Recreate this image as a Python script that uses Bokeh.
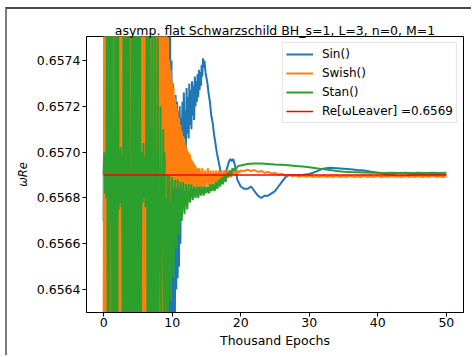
import numpy as np
from bokeh.plotting import figure
from bokeh.models import Range1d, FixedTicker, PrintfTickFormatter, Legend, LegendItem
from bokeh.embed import file_html
from bokeh.resources import INLINE

# ---------------- data (thousand epochs, omega_Re) ----------------
title_text = "asymp. flat Schwarzschild BH_s=1, L=3, n=0, M=1"
series_names = ["Sin()", "Swish()", "Stan()"]
leaver_value = 0.6569
leaver_epochs = [0.0, 50.0]

x_ticks = [0, 10, 20, 30, 40, 50]
y_ticks = [0.6564, 0.6566, 0.6568, 0.6570, 0.6572, 0.6574]

# Sin() pieces: (first epoch, last epoch) and values
sin_early_span = (0.0, 8.0)
sin_early = [0.6567, 0.6579, 0.6559, 0.6579, 0.6559, 0.6578, 0.6560, 0.6579, 0.6559, 0.6579,
             0.6560, 0.6578, 0.6559, 0.6579, 0.6559, 0.6579, 0.6560, 0.6578, 0.6559, 0.6579,
             0.6560, 0.6579, 0.6559, 0.6578, 0.6559, 0.6579, 0.6560, 0.6579, 0.6559, 0.6578,
             0.6560, 0.6579, 0.6559, 0.6579, 0.6560, 0.6578, 0.6559, 0.6579, 0.6560, 0.6579, 0.6560]
sin_burst_span = (8.2, 11.3)
sin_burst = [0.6560, 0.6578, 0.6560, 0.6572, 0.6560, 0.6578, 0.6561, 0.6578, 0.6560, 0.6578,
             0.6561, 0.6578, 0.6562, 0.6578, 0.6561, 0.6576, 0.6562, 0.6574, 0.6563, 0.6573,
             0.6562, 0.6572, 0.6563, 0.65725, 0.65640, 0.65722, 0.65645, 0.65718, 0.65650, 0.65720,
             0.65660, 0.65715]
sin_ramp_span = (11.4, 14.6)
sin_ramp = [0.65705, 0.65722, 0.65703, 0.65726, 0.65706, 0.65718, 0.65702, 0.65728, 0.65708, 0.65724,
            0.65706, 0.65730, 0.65712, 0.65727, 0.65710, 0.65731, 0.65716, 0.65729, 0.65714, 0.65733,
            0.65720, 0.65731, 0.65722, 0.65734, 0.65724, 0.65736, 0.65727, 0.65735, 0.65729, 0.65738,
            0.65733, 0.65741, 0.65737]
sin_decay_span = (14.7, 19.5)
sin_decay = [0.65740, 0.65734, 0.65731, 0.65726, 0.65722, 0.65716, 0.65713, 0.65708, 0.65704, 0.65700,
             0.65697, 0.65694, 0.65691, 0.65690, 0.65689, 0.65690, 0.65692, 0.65694, 0.65696, 0.65697,
             0.65696, 0.65697, 0.65695, 0.65692, 0.65688]
sin_dip_span = (20.0, 28.0)
sin_dip = [0.65685, 0.65684, 0.65684, 0.65685, 0.65683, 0.65681, 0.65680, 0.65681, 0.65681, 0.65682,
           0.65683, 0.65685, 0.65687, 0.65689, 0.65690, 0.65690, 0.65690]
sin_tail_span = (29.0, 50.0)
sin_tail = [0.656900, 0.656905, 0.656915, 0.656928, 0.656932, 0.656930, 0.656928, 0.656925, 0.656922, 0.656920,
            0.656915, 0.656910, 0.656905, 0.656900, 0.656895, 0.656897, 0.656900, 0.656902, 0.656903, 0.656903,
            0.656902, 0.656902]

# Swish() pieces
swish_early_span = (0.0, 8.4)
swish_early = [0.6562, 0.6579, 0.6559, 0.6579, 0.6560, 0.6578, 0.6559, 0.6579, 0.6560, 0.6579,
               0.6559, 0.6578, 0.6560, 0.6579, 0.6559, 0.6579, 0.6560, 0.6578, 0.6559, 0.6579,
               0.6560, 0.6579, 0.6559, 0.6578, 0.6560, 0.6579, 0.6559, 0.6579, 0.6560, 0.6578,
               0.6559, 0.6579, 0.6560, 0.6579, 0.6559, 0.6578, 0.6560, 0.6579, 0.6559, 0.6579,
               0.6560, 0.6578, 0.6559, 0.6579, 0.6560, 0.6579, 0.6559, 0.6578, 0.6560, 0.6579,
               0.6559, 0.6579, 0.6560, 0.6578, 0.6559, 0.6579, 0.6560, 0.6579, 0.6559, 0.6578,
               0.6560, 0.6579, 0.6559, 0.6579, 0.6560, 0.6578, 0.6559, 0.6579, 0.6560, 0.6579,
               0.6559, 0.6578, 0.6560, 0.6579, 0.6559, 0.6579, 0.6560, 0.6578, 0.6559, 0.6579,
               0.6560, 0.6579, 0.6559, 0.6578, 0.6560]
swish_envelope_span = (8.5, 14.0)
swish_envelope = [0.6560, 0.6578, 0.6560, 0.6578, 0.6561, 0.6577, 0.6562, 0.6576, 0.6564, 0.65750,
                  0.65670, 0.65740, 0.65678, 0.65736, 0.65682, 0.65731, 0.65684, 0.65728, 0.65684, 0.65724,
                  0.65685, 0.65721, 0.65684, 0.65718, 0.65685, 0.65715, 0.65684, 0.65712, 0.65685, 0.65709,
                  0.65684, 0.65707, 0.65685, 0.65705, 0.65684, 0.65703, 0.65685, 0.65701, 0.65684, 0.65700,
                  0.65685, 0.65699, 0.65684, 0.65697, 0.65685, 0.65696, 0.65684, 0.65695, 0.65685, 0.65694,
                  0.65684, 0.65693, 0.65685, 0.65693, 0.65684, 0.65693]
swish_settle_span = (14.2, 20.0)
swish_settle = [0.65684, 0.65693, 0.65684, 0.65692, 0.65685, 0.65693, 0.65685, 0.65692, 0.65685, 0.65692,
                0.65686, 0.65692, 0.65686, 0.65692, 0.65687, 0.65692, 0.65687, 0.65692, 0.65688, 0.65692,
                0.65689, 0.65692, 0.65689, 0.65692, 0.65690, 0.65692, 0.65690, 0.65692, 0.65691, 0.65692]
swish_tail_span = (20.5, 50.0)
swish_tail = [0.656918, 0.656924, 0.656918, 0.656922, 0.656914, 0.656918, 0.656910, 0.656914, 0.656906, 0.656910,
              0.656902, 0.656905, 0.656898, 0.656901, 0.656895, 0.656898, 0.656893, 0.656897, 0.656892, 0.656896,
              0.656892, 0.656895, 0.656891, 0.656896, 0.656892, 0.656895, 0.656892, 0.656896, 0.656891, 0.656895,
              0.656892, 0.656896, 0.656892, 0.656895, 0.656891, 0.656896, 0.656892, 0.656895, 0.656892, 0.656896,
              0.656891, 0.656895, 0.656892, 0.656896, 0.656892, 0.656895, 0.656891, 0.656896, 0.656892, 0.656895,
              0.656892, 0.656896, 0.656891, 0.656895, 0.656892, 0.656896, 0.656892, 0.656895, 0.656891, 0.656895]

# Stan() pieces
stan_early_span = (0.0, 9.4)
stan_early = [0.65690, 0.65700, 0.65682, 0.65698, 0.65680, 0.6578, 0.6560, 0.6578, 0.6560, 0.6578,
              0.6567, 0.6578, 0.6560, 0.6578, 0.6560, 0.6571, 0.6560, 0.6578, 0.6560, 0.6578,
              0.6560, 0.6578, 0.65675, 0.65700, 0.65678, 0.65702, 0.65676, 0.65698, 0.6560, 0.6578,
              0.6560, 0.6578, 0.6560, 0.6578, 0.6560, 0.6578, 0.6560, 0.6578, 0.6560, 0.6569,
              0.6560, 0.6578, 0.6560, 0.6578, 0.6560, 0.6578, 0.6560, 0.6578, 0.6560, 0.6578,
              0.6560, 0.6578, 0.6560, 0.6578, 0.6560, 0.65682, 0.65700, 0.65678, 0.65704, 0.65680,
              0.65698, 0.65676, 0.65702, 0.6578, 0.6560, 0.6578, 0.6560, 0.6578, 0.6560, 0.6571,
              0.6560, 0.6578, 0.6561, 0.6569, 0.6560, 0.6578, 0.6562, 0.6570, 0.6560, 0.6575,
              0.6561, 0.6568, 0.6565, 0.6572, 0.6562, 0.6569, 0.6566, 0.6571, 0.6562, 0.6570,
              0.6561, 0.6568, 0.6562, 0.6569, 0.6563]
stan_rise_span = (9.6, 19.6)
stan_rise = [0.65690, 0.65635, 0.65689, 0.65645, 0.65688, 0.65658, 0.65688, 0.65664, 0.65687, 0.65670,
             0.65687, 0.65673, 0.65686, 0.65675, 0.65686, 0.65678, 0.65686, 0.65679, 0.65685, 0.65680,
             0.65685, 0.65680, 0.65685, 0.65681, 0.65685, 0.65681, 0.65685, 0.65682, 0.65685, 0.65682,
             0.65686, 0.65683, 0.65686, 0.65683, 0.65687, 0.65684, 0.65688, 0.65685, 0.65689, 0.65686,
             0.65690, 0.65687, 0.65691, 0.65689, 0.65692, 0.65690, 0.65693, 0.65692, 0.65693, 0.65693,
             0.65694]
stan_tail_span = (20.0, 50.0)
stan_tail = [0.656942, 0.656948, 0.656950, 0.656950, 0.656948, 0.656946, 0.656945, 0.656943, 0.656940, 0.656937,
             0.656934, 0.656930, 0.656926, 0.656922, 0.656918, 0.656915, 0.656913, 0.656912, 0.656911, 0.656910,
             0.656910, 0.656909, 0.656910, 0.656909, 0.656910, 0.656909, 0.656910, 0.656909, 0.656910, 0.656909,
             0.656910]


def assemble(pieces):
    xs, ys = [], []
    for (start, end), vals in pieces:
        xs.extend(np.linspace(start, end, len(vals)).tolist())
        ys.extend(vals)
    return xs, ys


sin_x, sin_y = assemble([(sin_early_span, sin_early), (sin_burst_span, sin_burst),
                         (sin_ramp_span, sin_ramp), (sin_decay_span, sin_decay),
                         (sin_dip_span, sin_dip), (sin_tail_span, sin_tail)])
swish_x, swish_y = assemble([(swish_early_span, swish_early), (swish_envelope_span, swish_envelope),
                             (swish_settle_span, swish_settle), (swish_tail_span, swish_tail)])
stan_x, stan_y = assemble([(stan_early_span, stan_early), (stan_rise_span, stan_rise),
                           (stan_tail_span, stan_tail)])

# ---------------- figure ----------------
FONT = "DejaVu Sans"
FS = "12.5px"

p = figure(width=466, height=348,
           x_range=Range1d(-2.5, 52.5), y_range=Range1d(0.65630, 0.657505),
           output_backend="svg", toolbar_location=None,
           min_border_left=79, min_border_right=10, min_border_top=27, min_border_bottom=45,
           title=title_text)
# grey frame of the original image (left and top edges)
p.styles = {"margin-left": "5px", "margin-top": "7px",
            "border-left": "2px solid #7d7d7d", "border-top": "2px solid #4a4a4a"}

p.title.text_font = FONT
p.title.text_font_size = FS
p.title.text_font_style = "normal"
p.title.text_color = "black"
p.title.align = "center"
p.title.standoff = -2.5

p.grid.visible = False
p.outline_line_color = "black"
p.outline_line_width = 1
p.outline_line_alpha = 1

for ax in (p.xaxis, p.yaxis):
    ax.axis_line_color = "black"
    ax.major_tick_line_color = "black"
    ax.minor_tick_line_color = None
    ax.major_tick_in = 0
    ax.major_tick_out = 4
    ax.major_label_text_font = FONT
    ax.major_label_text_font_size = FS
    ax.major_label_text_color = "black"
    ax.axis_label_text_font = FONT
    ax.axis_label_text_color = "black"

p.xaxis.major_label_standoff = 1
p.yaxis.major_label_standoff = 2
p.xaxis.ticker = FixedTicker(ticks=x_ticks)
p.yaxis.ticker = FixedTicker(ticks=y_ticks)
p.yaxis.formatter = PrintfTickFormatter(format="%.4f")
p.xaxis.axis_label = "Thousand Epochs"
p.xaxis.axis_label_text_font_size = FS
p.xaxis.axis_label_text_font_style = "normal"
p.xaxis.axis_label_standoff = 3
p.yaxis.axis_label = "\u03c9Re"
p.yaxis.axis_label_text_font_size = "11.5px"
p.yaxis.axis_label_text_font_style = "italic"
p.yaxis.axis_label_standoff = 4

LW = 2
r_sin = p.line(sin_x, sin_y, line_color="#1f77b4", line_width=LW)
r_swish = p.line(swish_x, swish_y, line_color="#ff7f0e", line_width=LW)
r_stan = p.line(stan_x, stan_y, line_color="#2ca02c", line_width=LW)
r_leaver = p.line(leaver_epochs, [leaver_value] * len(leaver_epochs), line_color="#ff0000", line_width=1.5)

legend = Legend(items=[LegendItem(label=series_names[0], renderers=[r_sin]),
                       LegendItem(label=series_names[1], renderers=[r_swish]),
                       LegendItem(label=series_names[2], renderers=[r_stan]),
                       LegendItem(label="Re[\u03c9Leaver] =%.4f" % leaver_value, renderers=[r_leaver])],
                location="top_right", margin=6, padding=3, spacing=3,
                label_height=16, glyph_height=16, glyph_width=27, label_standoff=9,
                label_text_font=FONT, label_text_font_size="12px", label_text_color="black",
                border_line_color="#cccccc", border_line_width=1,
                background_fill_color="white", background_fill_alpha=0.8)
p.add_layout(legend)

open("out.html", "w").write(file_html(p, INLINE))
